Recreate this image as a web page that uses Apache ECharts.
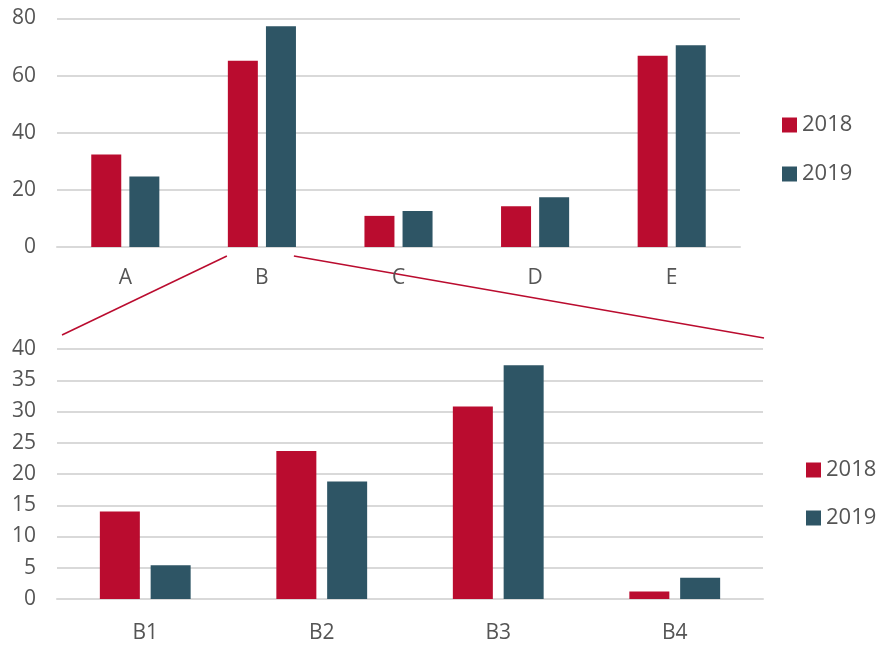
<!DOCTYPE html>
<html>
<head>
<meta charset="utf-8">
<script src="https://cdn.jsdelivr.net/npm/echarts@6/dist/echarts.min.js"></script>
<style>
  html, body { margin: 0; padding: 0; background: #fff; }
  #chart { width: 883px; height: 645px; }
</style>
</head>
<body>
<div id="chart"></div>
<script>
// Overview categories and yearly values
const mainCategories = ['A', 'B', 'C', 'D', 'E'];
const main2018 = [32.4, 65.2, 10.9, 14.3, 67.0];
const main2019 = [24.7, 77.3, 12.6, 17.4, 70.6];

// Breakdown of category B
const detailCategories = ['B1', 'B2', 'B3', 'B4'];
const detail2018 = [14.0, 23.7, 30.8, 1.2];
const detail2019 = [5.4, 18.8, 37.4, 3.4];

const seriesNames = ['2018', '2019'];
const RED = '#BA0C2F';
const TEAL = '#2E5565';
const TEXT = '#555555';
const FONT = '"Open Sans", "Noto Sans", sans-serif';

// Plot rectangles (px)
const topGrid = { left: 57, top: 18.5, width: 683, height: 228.5 };
const botGrid = { left: 57, top: 349, width: 706, height: 250 };

const chart = echarts.init(document.getElementById('chart'), null, { renderer: 'canvas' });

function valueAxis(gridIndex, max, interval) {
  return {
    type: 'value', gridIndex, min: 0, max, interval,
    axisLine: { show: false }, axisTick: { show: false },
    splitLine: { lineStyle: { color: '#D9D9D9', width: 2 } },
    axisLabel: { color: TEXT, fontSize: 21, fontFamily: FONT, margin: 21 }
  };
}
function catAxis(gridIndex, data, margin) {
  return {
    type: 'category', gridIndex, data,
    axisLine: { show: true, lineStyle: { color: '#D9D9D9', width: 2 } },
    axisTick: { show: false },
    axisLabel: { color: TEXT, fontSize: 21, fontFamily: FONT, margin }
  };
}
function legend(left, top, gap) {
  return {
    data: seriesNames, orient: 'vertical', left, top, padding: 0,
    icon: 'rect', itemWidth: 15, itemHeight: 15, itemGap: gap,
    textStyle: { color: TEXT, fontSize: 22, fontFamily: FONT, lineHeight: 22 },
    selectedMode: false
  };
}

chart.setOption({
  animation: false,
  color: [RED, TEAL],
  grid: [
    Object.assign({ containLabel: false }, topGrid),
    Object.assign({ containLabel: false }, botGrid)
  ],
  xAxis: [catAxis(0, mainCategories, 21), catAxis(1, detailCategories, 24)],
  yAxis: [valueAxis(0, 80, 20), valueAxis(1, 40, 5)],
  legend: [legend(782, 114, 27), legend(806, 459, 26)],
  series: [
    { name: '2018', type: 'bar', xAxisIndex: 0, yAxisIndex: 0, data: main2018, barWidth: 30, barGap: '27%', itemStyle: { color: RED } },
    { name: '2019', type: 'bar', xAxisIndex: 0, yAxisIndex: 0, data: main2019, barWidth: 30, barGap: '27%', itemStyle: { color: TEAL } },
    { name: '2018', type: 'bar', xAxisIndex: 1, yAxisIndex: 1, data: detail2018, barWidth: 40, barGap: '27%', itemStyle: { color: RED } },
    { name: '2019', type: 'bar', xAxisIndex: 1, yAxisIndex: 1, data: detail2019, barWidth: 40, barGap: '27%', itemStyle: { color: TEAL } }
  ]
});

// Connector lines from category B down to the breakdown chart
const bBase = chart.convertToPixel({ gridIndex: 0 }, ['B', 0]);
const yStart = bBase[1] + 9;
const lineStyle = { stroke: RED, lineWidth: 1.5 };
chart.setOption({
  graphic: [
    { type: 'line', silent: true, shape: { x1: bBase[0] - 35, y1: yStart, x2: botGrid.left + 5, y2: botGrid.top - 14 }, style: lineStyle },
    { type: 'line', silent: true, shape: { x1: bBase[0] + 32, y1: yStart, x2: botGrid.left + botGrid.width + 1, y2: botGrid.top - 11 }, style: lineStyle }
  ]
});
</script>
</body>
</html>
